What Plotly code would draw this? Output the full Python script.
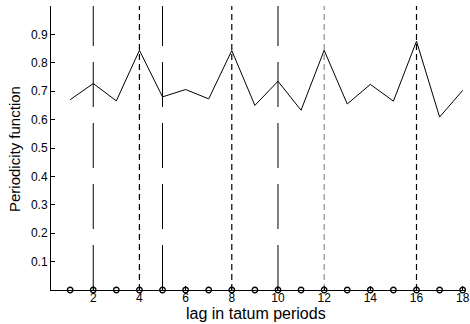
import plotly.graph_objects as go

lags = list(range(1, 19))
periodicity = [0.670, 0.727, 0.666, 0.844, 0.680, 0.706, 0.673, 0.843, 0.650,
               0.735, 0.633, 0.844, 0.655, 0.724, 0.665, 0.876, 0.609, 0.703]
zeros = [0.0] * len(lags)

longdash_lags = [2, 5, 10]
dashed_lags = [4, 8, 16]
gray_dashed_lags = [12]

x_ticks = [2, 4, 6, 8, 10, 12, 14, 16, 18]
y_ticks = [0.1, 0.2, 0.3, 0.4, 0.5, 0.6, 0.7, 0.8, 0.9]
y_tick_labels = ["0.1", "0.2", "0.3", "0.4", "0.5", "0.6", "0.7", "0.8", "0.9"]

FONT = "Liberation Sans, Arial, sans-serif"
W, H = 470, 324
ml, mr, mt, mb = 51, 5, 6, 34
pw, ph = W - ml - mr, H - mt - mb


def vlines(xs):
    xx, yy = [], []
    for v in xs:
        xx += [v, v, None]
        yy += [0, 1, None]
    return xx, yy


fig = go.Figure()

x, y = vlines(longdash_lags)
fig.add_trace(go.Scatter(x=x, y=y, mode="lines",
                         line=dict(color="black", width=1, dash="45px,16px"),
                         showlegend=False, hoverinfo="skip"))
x, y = vlines(dashed_lags)
fig.add_trace(go.Scatter(x=x, y=y, mode="lines",
                         line=dict(color="black", width=1.2, dash="6px,4px"),
                         showlegend=False, hoverinfo="skip"))
x, y = vlines(gray_dashed_lags)
fig.add_trace(go.Scatter(x=x, y=y, mode="lines",
                         line=dict(color="#777777", width=1, dash="6px,4px"),
                         showlegend=False, hoverinfo="skip"))

fig.add_trace(go.Scatter(x=lags, y=periodicity, mode="lines",
                         line=dict(color="black", width=1),
                         showlegend=False))

fig.add_trace(go.Scatter(x=lags, y=zeros, mode="markers",
                         marker=dict(symbol="circle-open", size=5.5, color="black",
                                     line=dict(width=1.3, color="black")),
                         showlegend=False, cliponaxis=False))

fig.update_layout(
    width=W, height=H,
    margin=dict(l=ml, r=mr, t=mt, b=mb),
    paper_bgcolor="white", plot_bgcolor="white",
    font=dict(family=FONT, size=12, color="black"),
    xaxis=dict(range=[0.17, 18.1], tickvals=x_ticks, ticktext=[str(t) for t in x_ticks],
               ticks="inside", ticklen=4, tickcolor="black", showgrid=False, zeroline=False,
               showline=True, linecolor="black", linewidth=1.3, automargin=False,
               tickfont=dict(size=12), ticklabelstandoff=-4),
    yaxis=dict(range=[0, 1], tickvals=y_ticks, ticktext=y_tick_labels,
               ticks="inside", ticklen=4, tickcolor="black", showgrid=False, zeroline=False,
               showline=True, linecolor="black", linewidth=1, automargin=False,
               tickfont=dict(size=12)),
)
fig.add_annotation(text="lag in tatum periods", x=(256 - ml) / pw, y=-(314 - (H - mb)) / ph,
                   xref="paper", yref="paper", showarrow=False,
                   xanchor="center", yanchor="middle", font=dict(size=16, family=FONT))
fig.add_annotation(text="Periodicity function", textangle=-90, x=(14 - ml) / pw,
                   y=(H - mb - 149) / ph, xref="paper", yref="paper", showarrow=False,
                   xanchor="center", yanchor="middle", font=dict(size=15, family=FONT))

fig.write_html("out.html", config={"displayModeBar": False},
               post_script="document.body.style.margin='0';document.body.style.padding='0';")
